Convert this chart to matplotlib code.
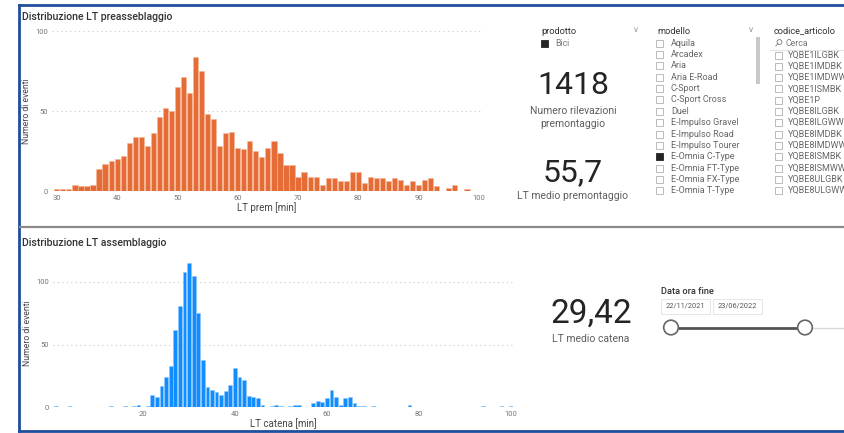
import matplotlib
matplotlib.use("Agg")
import matplotlib.pyplot as plt
from matplotlib.patches import Rectangle, Circle

plt.rcParams['font.family'] = ['Roboto', 'DejaVu Sans']

# --- data ---
prem_min = list(range(30, 100))
prem_n = [1, 1, 1, 4, 3, 3, 4, 14, 17, 19,
          20, 22, 30, 34, 34, 28, 36, 46, 52, 50,
          65, 71, 61, 84, 75, 48, 45, 28, 36, 37,
          27, 26, 31, 25, 21, 27, 31, 24, 16, 16,
          9, 12, 9, 9, 4, 8, 8, 6, 6, 12,
          12, 5, 9, 8, 8, 6, 8, 7, 4, 6,
          4, 7, 8, 3, 0, 2, 4, 0, 1, 0]

catena_min = [1, 4, 13, 16, 18, 19, 21, 22, 23, 24, 25, 26, 27, 28, 29, 30,
              31, 32, 33, 34, 35, 36, 37, 38, 39, 40, 41, 42, 43, 44, 45, 46,
              48, 49, 50, 52, 53, 54, 57, 58, 59, 60, 61, 62, 63, 64, 65, 66,
              67, 68, 70, 78, 94, 98, 100]
catena_n = [1, 1, 1, 1, 1, 2, 1, 10, 8, 17, 24, 33, 62, 81, 108, 115,
            105, 75, 38, 16, 14, 12, 10, 13, 18, 31, 24, 22, 9, 8, 7, 2,
            1, 2, 1, 1, 2, 2, 3, 5, 4, 7, 14, 8, 2, 7, 8, 3,
            1, 1, 1, 2, 1, 1, 1]

n_rilevazioni = "1418"
lt_medio_prem = "55,7"
lt_medio_catena = "29,42"

modelli = ["Aquila", "Arcadex", "Aria", "Aria E-Road", "C-Sport", "C-Sport Cross",
           "Duel", "E-Impulso Gravel", "E-Impulso Road", "E-Impulso Tourer",
           "E-Omnia C-Type", "E-Omnia FT-Type", "E-Omnia FX-Type", "E-Omnia T-Type"]
modello_sel = "E-Omnia C-Type"
codici = ["YQBE1ILGBK", "YQBE1IMDBK", "YQBE1IMDWW", "YQBE1ISMBK", "YQBE1P",
          "YQBE8ILGBK", "YQBE8ILGWW", "YQBE8IMDBK", "YQBE8IMDWW", "YQBE8ISMBK",
          "YQBE8ISMWW", "YQBE8ULGBK", "YQBE8ULGWW"]
data_da, data_a = "22/11/2021", "23/06/2022"

W, H = 845, 433
fig = plt.figure(figsize=(W / 100, H / 100), dpi=100)
fig.patch.set_facecolor('white')


def box(left, top, right, bottom):
    return [left / W, 1 - bottom / H, (right - left) / W, (bottom - top) / H]


def style_hist(ax, xlabel):
    for s in ax.spines.values():
        s.set_visible(False)
    ax.tick_params(length=0, labelsize=5.5, labelcolor='#777777', pad=3)
    ax.grid(axis='y', linestyle=(0, (1, 3)), color='#c8c8c8', linewidth=0.8)
    ax.set_axisbelow(True)
    ax.set_ylabel('Numero di eventi', fontsize=6.2, color='#444444', labelpad=3)
    ax.set_xlabel(xlabel, fontsize=7, color='#444444', labelpad=1)


# top histogram
ax1 = fig.add_axes(box(52, 31, 482, 191))
ax1.bar(prem_min, prem_n, width=0.86, color='#E66C37', edgecolor='#f4b896', linewidth=0.4)
ax1.set_xlim(29.2, 100.5)
ax1.set_ylim(0, 100)
ax1.set_yticks([0, 50, 100])
ax1.set_xticks(range(30, 101, 10))
style_hist(ax1, 'LT prem [min]')

# bottom histogram
ax2 = fig.add_axes(box(53, 259.5, 513, 407))
ax2.bar(catena_min, catena_n, width=0.82, color='#118DFF', edgecolor='#8cc6ff', linewidth=0.4)
ax2.set_xlim(0.4, 100.5)
ax2.set_ylim(0, 118)
ax2.set_yticks([0, 50, 100])
ax2.set_xticks(range(20, 101, 20))
style_hist(ax2, 'LT catena [min]')

# overlay in pixel coordinates for the report decorations
ov2 = fig.add_axes([0, 0, 1, 1], zorder=5)
ov2.set_xlim(0, W)
ov2.set_ylim(H, 0)
ov2.axis('off')
ov2.patch.set_alpha(0)

# frame
blue = '#1F4E9C'
ov2.plot([19.5, W], [5, 5], color=blue, lw=2)
ov2.plot([19.5, 19.5], [5, 431], color=blue, lw=2)
ov2.plot([19.5, W], [431, 431], color=blue, lw=2)
ov2.plot([20, W], [226.5, 226.5], color='#8a8a8a', lw=1.6)

# titles
ov2.text(22, 17, 'Distribuzione LT preasseblaggio', fontsize=7.6, color='#333333',
         fontweight='medium', va='center')
ov2.text(22, 243, 'Distribuzione LT assemblaggio', fontsize=7.6, color='#333333',
         fontweight='medium', va='center')

# cards
dark = '#252423'
grey = '#605e5c'
ov2.text(573, 85.5, n_rilevazioni, fontsize=23, color=dark, ha='center', va='center')
ov2.text(573, 111, 'Numero rilevazioni', fontsize=7.5, color=grey, ha='center', va='center')
ov2.text(573, 124, 'premontaggio', fontsize=7.5, color=grey, ha='center', va='center')
ov2.text(573, 172.5, lt_medio_prem, fontsize=23, color=dark, ha='center', va='center')
ov2.text(573, 196, 'LT medio premontaggio', fontsize=7.5, color=grey, ha='center', va='center')
ov2.text(591, 313.5, lt_medio_catena, fontsize=24, color=dark, ha='center', va='center')
ov2.text(591, 339, 'LT medio catena', fontsize=7.5, color=grey, ha='center', va='center')

# slicer: prodotto
ov2.text(541, 31, 'prodotto', fontsize=6.7, color='#333333', va='center')
ov2.text(636, 30, '\u2228', fontsize=6, color='#999999', va='center', ha='center')
ov2.add_patch(Rectangle((541.5, 39.5), 7, 7, facecolor='#252423', edgecolor='#252423', lw=0.6))
ov2.text(555, 43, 'Bici', fontsize=6.3, color='#777777', va='center')

# slicer: modello
ov2.text(657, 31, 'modello', fontsize=6.7, color='#333333', va='center')
ov2.text(751, 30, '\u2228', fontsize=6, color='#999999', va='center', ha='center')
ov2.add_patch(Rectangle((756, 37), 4, 47, facecolor='#c8c8c8', edgecolor='none'))
for i, m in enumerate(modelli):
    y = 43 + i * 11.38
    sel = m == modello_sel
    ov2.add_patch(Rectangle((656.5, y - 3.5), 7, 7, lw=0.6,
                            facecolor='#252423' if sel else 'white',
                            edgecolor='#252423' if sel else '#b0b0b0'))
    ov2.text(671, y, m, fontsize=6.5, color='#666666', va='center')

# slicer: codice_articolo
ov2.text(774, 31, 'codice_articolo', fontsize=6.7, color='#333333', va='center')
ov2.add_patch(Circle((779.5, 42), 2.4, facecolor='none', edgecolor='#777777', lw=0.6))
ov2.plot([777.8, 775.8], [43.8, 46], color='#777777', lw=0.6)
ov2.text(786, 43, 'Cerca', fontsize=6.3, color='#777777', va='center')
ov2.plot([770, W], [49.5, 49.5], color='#e3e3e3', lw=0.8)
for i, c in enumerate(codici):
    y = 55 + i * 11.33
    ov2.add_patch(Rectangle((775, y - 3.5), 7, 7, lw=0.6, facecolor='white', edgecolor='#b0b0b0'))
    ov2.text(788, y, c, fontsize=6.5, color='#666666', va='center')

# date slicer
ov2.text(661.5, 291, 'Data ora fine', fontsize=6.7, color='#333333', va='center',
         fontweight='medium')
for x0, x1, lab in [(661, 710, data_da), (713, 762, data_a)]:
    ov2.add_patch(Rectangle((x0, 299), x1 - x0, 15, facecolor='white', edgecolor='#e6e6e6', lw=0.7))
    ov2.text((x0 + x1) / 2, 306.5, lab, fontsize=5.3, color='#555555', ha='center', va='center')
ov2.plot([805, W], [327.5, 327.5], color='#d9d9d9', lw=1)
ov2.plot([671, 805], [327.5, 327.5], color='#555555', lw=2)
for cx in (671, 805):
    ov2.add_patch(Circle((cx, 327.5), 7.3, facecolor='white', edgecolor='#666666', lw=1.2, zorder=3))

fig.savefig('out.png', dpi=100, facecolor='white')
